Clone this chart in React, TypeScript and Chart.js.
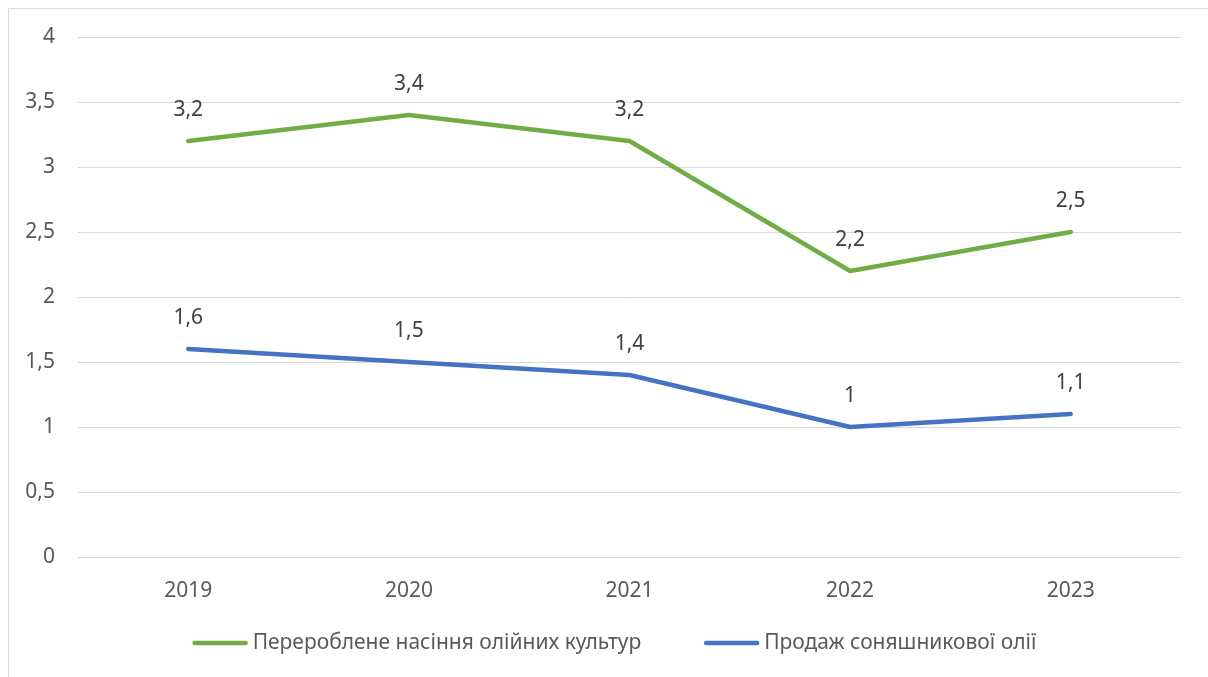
import React, { useEffect, useRef } from "react";
import { Chart, registerables } from "chart.js";

Chart.register(...registerables);

const years = ["2019", "2020", "2021", "2022", "2023"];
const processedSeeds = [3.2, 3.4, 3.2, 2.2, 2.5];
const sunflowerOilSales = [1.6, 1.5, 1.4, 1.0, 1.1];
const seriesNames = ["Перероблене насіння олійних культур", "Продаж соняшникової олії"];
const seriesColors = ["#70AD47", "#4472C4"];

const FONT = "'Noto Sans', 'Open Sans', sans-serif";
const fmt = (v: number) => String(v).replace(".", ",");

// Value labels above each point
const valueLabels = {
  id: "valueLabels",
  afterDatasetsDraw(chart: any) {
    const { ctx } = chart;
    ctx.save();
    ctx.font = `21px ${FONT}`;
    ctx.fillStyle = "#404040";
    ctx.textAlign = "center";
    ctx.textBaseline = "middle";
    chart.data.datasets.forEach((ds: any, i: number) => {
      const meta = chart.getDatasetMeta(i);
      meta.data.forEach((pt: any, j: number) => {
        ctx.fillText(fmt(ds.data[j]), pt.x, pt.y - 31);
      });
    });
    ctx.restore();
  },
};

// Legend along the bottom with line samples
const lineLegend = {
  id: "lineLegend",
  afterDraw(chart: any) {
    const { ctx, width, height } = chart;
    const sample = 55;
    const gap = 5;
    const itemGap = 63;
    ctx.save();
    ctx.font = `21px ${FONT}`;
    const items = chart.data.datasets.map((ds: any) => ({
      label: ds.label,
      color: ds.borderColor,
      w: ctx.measureText(ds.label).width,
    }));
    const total =
      items.reduce((s: number, it: any) => s + sample + gap + it.w, 0) + itemGap * (items.length - 1);
    let x = (width - total) / 2 + 6;
    const y = height - 34;
    items.forEach((it: any) => {
      ctx.strokeStyle = it.color;
      ctx.lineWidth = 4.5;
      ctx.lineCap = "round";
      ctx.beginPath();
      ctx.moveTo(x + 2, y);
      ctx.lineTo(x + sample - 2, y);
      ctx.stroke();
      ctx.fillStyle = "#595959";
      ctx.textAlign = "left";
      ctx.textBaseline = "middle";
      ctx.fillText(it.label, x + sample + gap, y);
      x += sample + gap + it.w + itemGap;
    });
    ctx.restore();
  },
};

export default function App() {
  const ref = useRef<HTMLCanvasElement>(null);

  useEffect(() => {
    const canvas = ref.current;
    if (!canvas) return;
    const chart = new Chart(canvas, {
      type: "line",
      data: {
        labels: years,
        datasets: [
          {
            label: seriesNames[0],
            data: processedSeeds,
            borderColor: seriesColors[0],
            backgroundColor: seriesColors[0],
            borderWidth: 4.5,
            borderCapStyle: "round",
            borderJoinStyle: "round",
            pointRadius: 0,
            tension: 0,
          },
          {
            label: seriesNames[1],
            data: sunflowerOilSales,
            borderColor: seriesColors[1],
            backgroundColor: seriesColors[1],
            borderWidth: 4.5,
            borderCapStyle: "round",
            borderJoinStyle: "round",
            pointRadius: 0,
            tension: 0,
          },
        ],
      },
      options: {
        responsive: false,
        animation: false,
        devicePixelRatio: 1,
        layout: { padding: { top: 28, right: 27, bottom: 80, left: 0 } },
        plugins: {
          legend: { display: false },
          tooltip: { enabled: false },
        },
        scales: {
          x: {
            offset: true,
            grid: { display: false, drawTicks: false },
            border: { display: false },
            ticks: {
              color: "#595959",
              font: { family: FONT, size: 21 },
              padding: 21,
            },
            afterFit(scale: any) {
              scale.height = 40;
            },
          },
          y: {
            min: 0,
            max: 4,
            grid: { color: "#d9d9d9", lineWidth: 1, drawTicks: false },
            border: { display: false },
            ticks: {
              stepSize: 0.5,
              color: "#595959",
              font: { family: FONT, size: 21 },
              padding: 23,
              callback: (v: any) => fmt(Number(v)),
            },
            afterFit(scale: any) {
              scale.width = 69;
              scale.paddingTop = 0;
              scale.paddingBottom = 0;
            },
          },
        },
      },
      plugins: [valueLabels, lineLegend],
    });
    return () => chart.destroy();
  }, []);

  return (
    <div
      style={{
        position: "fixed",
        left: 8,
        top: 8,
        borderTop: "1px solid #d9d9d9",
        borderLeft: "1px solid #d9d9d9",
        width: 1199,
        height: 668,
        background: "#fff",
      }}
    >
      <canvas ref={ref} width={1199} height={668} style={{ display: "block" }} />
    </div>
  );
}
